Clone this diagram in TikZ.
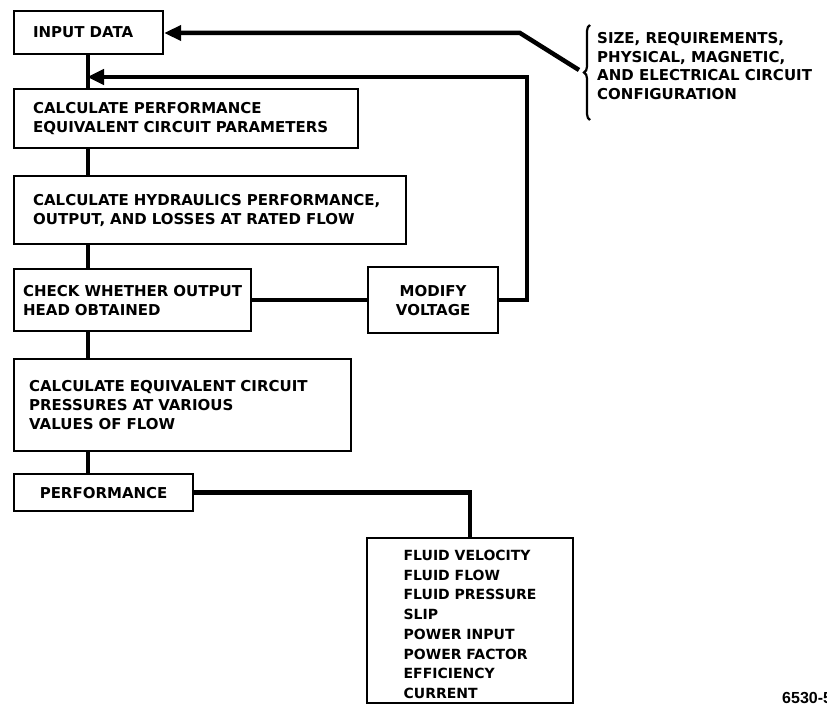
\documentclass[tikz,border=0pt]{standalone}
\usepackage{fontspec}
\setmainfont{DejaVu Sans}
\newfontfamily\labfont{Liberation Sans}
\usetikzlibrary{arrows.meta,decorations.pathreplacing}
\begin{document}
\begin{tikzpicture}[x=1pt,y=-1pt,
  box/.style={draw,line width=2.2pt,anchor=north west,align=left,inner ysep=2pt,
    font=\fontsize{15}{19}\selectfont\bfseries},
  conn/.style={line width=4.5pt},
  tip/.style={-{Triangle[length=17pt,width=15pt]}}]
\useasboundingbox (0,0) rectangle (827,709);
% boxes
\node[box,inner xsep=19pt,text width=111pt,minimum height=43pt] (in) at (13,10) {INPUT DATA};
\node[box,inner xsep=19pt,text width=306pt,minimum height=59pt] (perf) at (13,88) {CALCULATE PERFORMANCE\\EQUIVALENT CIRCUIT PARAMETERS};
\node[box,inner xsep=19pt,text width=354pt,minimum height=68pt] (hyd) at (13,175) {CALCULATE HYDRAULICS PERFORMANCE,\\OUTPUT, AND LOSSES AT RATED FLOW};
\node[box,inner xsep=9pt,text width=219pt,minimum height=62pt] (check) at (13,268) {CHECK WHETHER OUTPUT\\HEAD OBTAINED};
\node[box,inner xsep=10pt,text width=110pt,minimum height=66pt,align=center] (mod) at (367,266) {MODIFY\\VOLTAGE};
\node[box,inner xsep=15pt,text width=307pt,minimum height=92pt] (equiv) at (13,358) {CALCULATE EQUIVALENT CIRCUIT\\PRESSURES AT VARIOUS\\VALUES OF FLOW};
\node[box,inner xsep=10pt,text width=159pt,minimum height=37pt,align=center] (perfo) at (13,473) {PERFORMANCE};
\node[box,inner xsep=4pt,minimum width=206pt,minimum height=165pt,inner ysep=1pt,
  font=\fontsize{14}{19.7}\selectfont\bfseries] (fluid) at (366,537) {\rule{0pt}{18pt}FLUID VELOCITY\\FLUID FLOW\\FLUID PRESSURE\\SLIP\\POWER INPUT\\POWER FACTOR\\EFFICIENCY\\CURRENT};
% input note
\node[anchor=north west,align=left,inner sep=0pt,font=\fontsize{15}{18.7}\selectfont\bfseries] (note) at (597,32) {SIZE, REQUIREMENTS,\\PHYSICAL, MAGNETIC,\\AND ELECTRICAL CIRCUIT\\CONFIGURATION};
\draw[line width=2.2pt,decorate,decoration={brace,amplitude=6pt}] (590,120) -- (590,25);
\coordinate (br) at (579,70);
\coordinate (bk) at (520,33);
\coordinate (vx) at (88,0);
\coordinate (rx) at (527,77);
\coordinate (fx) at (470,0);
% main chain
\draw[conn] (in.south -| vx) -- (perf.north -| vx);
\draw[conn] (perf.south -| vx) -- (hyd.north -| vx);
\draw[conn] (hyd.south -| vx) -- (check.north -| vx);
\draw[conn] (check.south -| vx) -- (equiv.north -| vx);
\draw[conn] (equiv.south -| vx) -- (perfo.north -| vx);
% feedback
\draw[conn] (check.east) -- (mod.west);
\draw[conn,tip,shorten >=-1pt] (mod.east) -| (rx) -- (rx -| vx);
\draw[conn,tip] (br) -- (bk) -- (bk -| in.east);
% performance output
\draw[conn] (perfo.east) -| (fluid.north -| fx);
% figure number
\node[anchor=base west,inner sep=0pt,font=\labfont\fontsize{16}{16}\selectfont\bfseries] (fig) at (782,703) {6530-5};
\end{tikzpicture}
\end{document}
